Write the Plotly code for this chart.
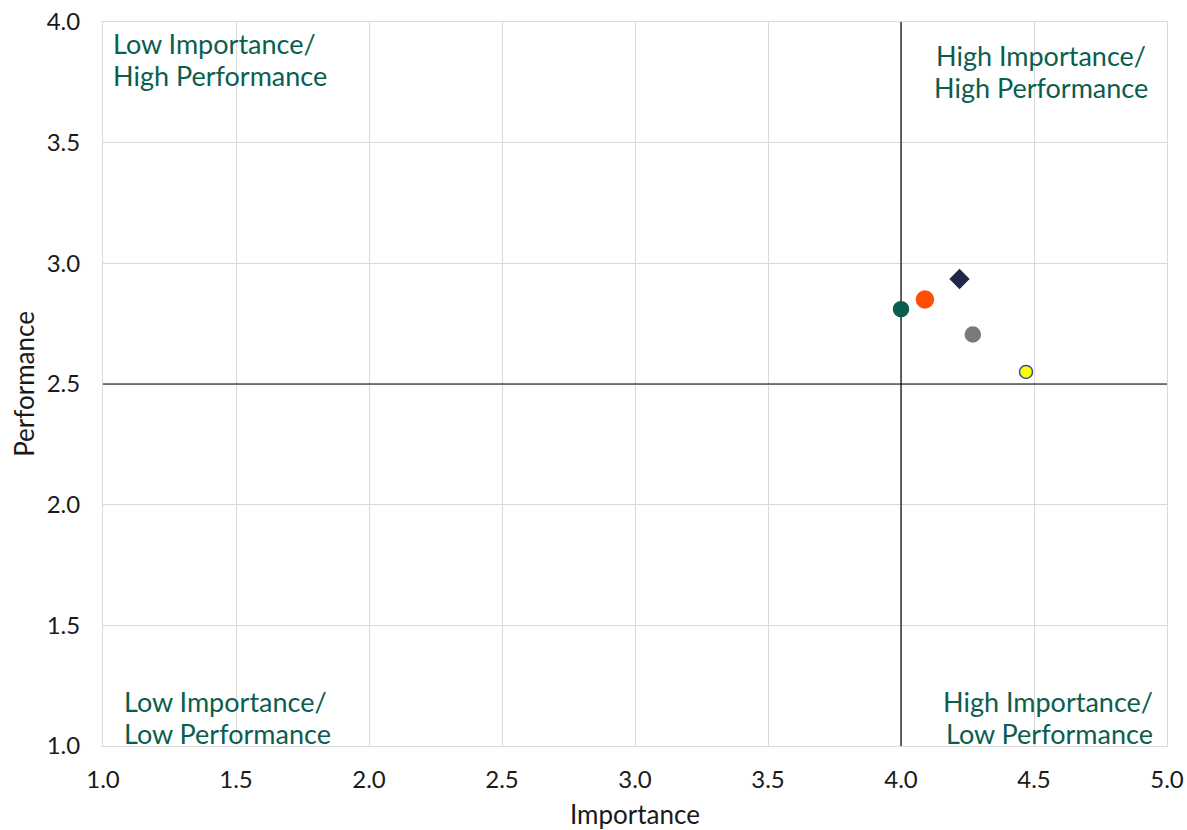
import plotly.graph_objects as go

# Item scores: importance vs performance
importance = [4.00, 4.09, 4.22, 4.27, 4.47]
performance = [2.81, 2.85, 2.935, 2.705, 2.55]
symbols = ["circle", "circle", "diamond", "circle", "circle"]
colors = ["#0B5E4E", "#FF4F00", "#1F2A4A", "#7A7A7A", "#FFFF00"]
outlines = ["#0B5E4E", "#FF4F00", "#1F2A4A", "#7A7A7A", "#2F5597"]
sizes = [15, 17, 14, 15, 13]

x_mid = 4.0
y_mid = 2.5

# Quadrant captions (two lines each), anchor position and alignment
quadrant_lines = [
    ["Low Importance/", "High Performance"],
    ["High Importance/", "High Performance"],
    ["Low Importance/", "Low Performance"],
    ["High Importance/", "Low Performance"],
]
quadrant_x = [1.041, 4.527, 1.083, 4.944]
quadrant_y = [3.845, 3.793, 1.12, 1.12]
quadrant_anchor = ["left", "center", "left", "right"]

TEAL = "#0B5E4E"
GRID = "#D9D9D9"
INK = "#1A1A1A"
LINE_GAP = 32  # px between caption lines
PAD_SHIFT = {"left": -3, "center": 0, "right": 3}  # offset annotation padding

fig = go.Figure()
for xi, yi, s, c, o, sz in zip(importance, performance, symbols, colors, outlines, sizes):
    fig.add_trace(go.Scatter(
        x=[xi], y=[yi], mode="markers",
        marker=dict(symbol=s, color=c, size=sz, line=dict(color=o, width=1.5)),
        showlegend=False, hoverinfo="x+y", cliponaxis=False,
    ))

fig.add_shape(type="line", x0=x_mid, x1=x_mid, y0=1, y1=4, xref="x", yref="y",
              line=dict(color="black", width=1.2), layer="between")
fig.add_shape(type="line", x0=1, x1=5, y0=y_mid, y1=y_mid, xref="x", yref="y",
              line=dict(color="black", width=1.2), layer="between")

for lines, ax, ay, anc in zip(quadrant_lines, quadrant_x, quadrant_y, quadrant_anchor):
    for i, t in enumerate(lines):
        fig.add_annotation(x=ax, y=ay, xref="x", yref="y", text=t, showarrow=False,
                           xanchor=anc, yanchor="middle",
                           xshift=PAD_SHIFT[anc],
                           yshift=LINE_GAP / 2 - i * LINE_GAP,
                           font=dict(family="Lato", size=27, color=TEAL))

fig.update_layout(
    width=1187, height=830,
    margin=dict(l=103, r=20, t=22, b=84, autoexpand=False),
    paper_bgcolor="white", plot_bgcolor="white",
    font=dict(family="Lato", color=INK),
)
fig.update_xaxes(
    range=[1, 5], dtick=0.5, tickformat=".1f", automargin=False,
    showgrid=True, gridcolor=GRID, gridwidth=1,
    showline=True, linecolor=GRID, mirror=True, zeroline=False,
    tickfont=dict(size=24, color=INK), ticks="", ticklabelstandoff=12,
    title=dict(text="Importance", font=dict(size=26, color=INK), standoff=24),
)
fig.update_yaxes(
    range=[1, 4], dtick=0.5, tickformat=".1f", automargin=False,
    showgrid=True, gridcolor=GRID, gridwidth=1,
    showline=True, linecolor=GRID, mirror=True, zeroline=False,
    tickfont=dict(size=24, color=INK), ticks="", ticklabelstandoff=17,
    title=dict(text="Performance", font=dict(size=26, color=INK), standoff=4),
)

fig.write_html("out.html")
